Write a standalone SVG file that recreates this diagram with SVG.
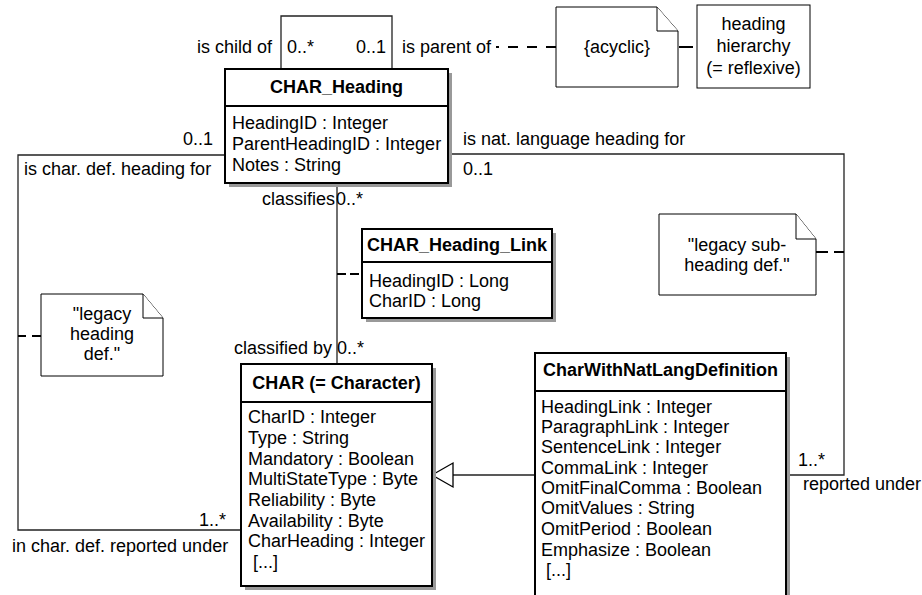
<svg xmlns="http://www.w3.org/2000/svg" width="922" height="595" viewBox="0 0 922 595">
<style>
.t{font-family:"Liberation Sans",Arial,sans-serif;font-size:18px;fill:#000}
.b{font-weight:bold}
.m{text-anchor:middle}
.e{text-anchor:end}
.box{fill:#fff;stroke:#000;stroke-width:2}
.sh{fill:#999}
.note{fill:#fff;stroke:#000;stroke-width:1}
.conn{fill:none;stroke:#222;stroke-width:1.3}
.dash{fill:none;stroke:#000;stroke-width:2}
</style>
<rect width="922" height="595" fill="#fff"/>

<g id="connectors">
  <polyline class="conn" points="281,69 281,16 392,16 392,69"/>
  <line class="conn" x1="337" y1="183" x2="337" y2="364"/>
  <polyline class="conn" points="225,155 18,155 18,530 241,530"/>
  <polyline class="conn" points="448,154 844,154 844,475 786,475"/>
  <line class="conn" x1="453" y1="475" x2="535" y2="475"/>
  <polygon points="432,475 453,463 453,487" fill="#fff" stroke="#000" stroke-width="1.3"/>
  <line class="dash" x1="556" y1="47" x2="496" y2="47" stroke-dasharray="10,9"/>
  <line class="dash" x1="679" y1="47" x2="696" y2="47" stroke-dasharray="14,4"/>
  <line class="dash" x1="816" y1="252" x2="844" y2="252" stroke-dasharray="12,6"/>
  <line class="dash" x1="41" y1="336" x2="18" y2="336" stroke-dasharray="9,6"/>
  <line class="dash" x1="337" y1="274" x2="362" y2="274" stroke-dasharray="9,4"/>
</g>

<g id="labels">
  <text class="t e" x="272" y="53">is child of</text>
  <text class="t" x="287" y="53">0..*</text>
  <text class="t e" x="386" y="53">0..1</text>
  <text class="t" x="402" y="53">is parent of</text>
  <text class="t e" x="213" y="145">0..1</text>
  <text class="t" x="24" y="175">is char. def. heading for</text>
  <text class="t" x="463" y="145">is nat. language heading for</text>
  <text class="t" x="463" y="175">0..1</text>
  <text class="t e" x="335" y="205">classifies</text>
  <text class="t" x="336" y="205">0..*</text>
  <text class="t e" x="332" y="354">classified by</text>
  <text class="t" x="337" y="354">0..*</text>
  <text class="t e" x="226" y="526">1..*</text>
  <text class="t" x="12" y="552">in char. def. reported under</text>
  <text class="t" x="798" y="466">1..*</text>
  <text class="t" x="803" y="490">reported under</text>
</g>

<g id="CHAR_Heading">
  <rect class="sh" x="229" y="73" width="223" height="114"/>
  <rect class="box" x="225" y="69" width="223" height="114"/>
  <line class="box" x1="225" y1="106" x2="448" y2="106"/>
  <text class="t b m" x="336.5" y="93">CHAR_Heading</text>
  <text class="t" x="232" y="129">HeadingID : Integer</text>
  <text class="t" x="232" y="150">ParentHeadingID : Integer</text>
  <text class="t" x="232" y="171">Notes : String</text>
</g>

<g id="CHAR_Heading_Link">
  <rect class="sh" x="366" y="233" width="190" height="89"/>
  <rect class="box" x="362" y="229" width="190" height="89"/>
  <line class="box" x1="362" y1="262" x2="552" y2="262"/>
  <text class="t b m" x="457" y="251">CHAR_Heading_Link</text>
  <text class="t" x="369" y="287">HeadingID : Long</text>
  <text class="t" x="369" y="307">CharID : Long</text>
</g>

<g id="CHAR">
  <rect class="sh" x="245" y="368" width="191" height="222"/>
  <rect class="box" x="241" y="364" width="191" height="222"/>
  <line class="box" x1="241" y1="402" x2="432" y2="402"/>
  <text class="t b m" x="336.5" y="389">CHAR (= Character)</text>
  <text class="t" x="248" y="423">CharID : Integer</text>
  <text class="t" x="248" y="444">Type : String</text>
  <text class="t" x="248" y="465">Mandatory : Boolean</text>
  <text class="t" x="248" y="485">MultiStateType : Byte</text>
  <text class="t" x="248" y="506">Reliability : Byte</text>
  <text class="t" x="248" y="527">Availability : Byte</text>
  <text class="t" x="248" y="547">CharHeading : Integer</text>
  <text class="t" x="253" y="568">[...]</text>
</g>

<g id="CharWithNatLangDefinition">
  <rect class="sh" x="539" y="357" width="251" height="250"/>
  <rect class="box" x="535" y="353" width="251" height="250"/>
  <line class="box" x1="535" y1="391" x2="786" y2="391"/>
  <text class="t b m" x="660.5" y="376">CharWithNatLangDefinition</text>
  <text class="t" x="541" y="413">HeadingLink : Integer</text>
  <text class="t" x="541" y="433">ParagraphLink : Integer</text>
  <text class="t" x="541" y="453">SentenceLink : Integer</text>
  <text class="t" x="541" y="474">CommaLink : Integer</text>
  <text class="t" x="541" y="494">OmitFinalComma : Boolean</text>
  <text class="t" x="541" y="514">OmitValues : String</text>
  <text class="t" x="541" y="535">OmitPeriod : Boolean</text>
  <text class="t" x="541" y="556">Emphasize : Boolean</text>
  <text class="t" x="546" y="576">[...]</text>
</g>

<g id="note_acyclic">
  <path class="note" d="M556,7 H657 L678,31 V87 H556 Z"/>
  <path class="note" d="M657,7 V31 H678"/>
  <text class="t m" x="617" y="53">{acyclic}</text>
</g>

<g id="note_hierarchy">
  <rect class="note" x="697" y="5" width="113" height="83"/>
  <text class="t m" x="753.5" y="30">heading</text>
  <text class="t m" x="753.5" y="52">hierarchy</text>
  <text class="t m" x="753.5" y="74">(= reflexive)</text>
</g>

<g id="note_legacy_heading">
  <path class="note" d="M41,294 H143 L163,318 V376 H41 Z"/>
  <path class="note" d="M143,294 V318 H163"/>
  <text class="t m" x="102" y="320">"legacy</text>
  <text class="t m" x="102" y="340">heading</text>
  <text class="t m" x="102" y="360">def."</text>
</g>

<g id="note_legacy_subheading">
  <path class="note" d="M659,214 H796 L816,239 V295 H659 Z"/>
  <path class="note" d="M796,214 V239 H816"/>
  <text class="t m" x="737" y="251">"legacy sub-</text>
  <text class="t m" x="737" y="271">heading def."</text>
</g>
</svg>
